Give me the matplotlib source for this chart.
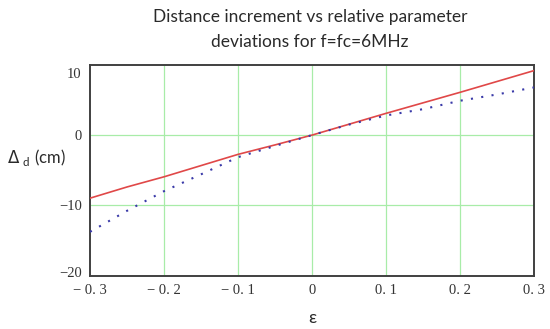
import matplotlib
matplotlib.use("Agg")
import matplotlib.pyplot as plt
from matplotlib.transforms import ScaledTranslation

eps = [-0.3, -0.25, -0.2, -0.15, -0.1, -0.05, 0.0, 0.05, 0.1, 0.15, 0.2, 0.25, 0.3]
red_vals = [-9.0, -7.4, -5.95, -4.35, -2.75, -1.4, 0.0, 1.55, 3.1, 4.6, 6.1, 7.65, 9.2]
blue_vals = [-13.8, -10.8, -8.0, -5.6, -3.15, -1.55, 0.0, 1.5, 2.8, 3.7, 4.9, 5.8, 6.8]
xticks = [-0.3, -0.2, -0.1, 0.0, 0.1, 0.2, 0.3]
xticklabels = ["\u2212 0. 3", "\u2212 0. 2", "\u2212 0. 1", "0", "0. 1", "0. 2", "0. 3"]
yticks = [-20, -10, 0, 10]
yticklabels = ["\u221220", "\u221210", "0", "10"]

fig = plt.figure(figsize=(5.5, 3.29), dpi=100)
ax = fig.add_axes([90/550, 1-276/329, (534-90)/550, (276-65)/329])

ax.plot(eps, red_vals, color="#e04848", lw=1.2, zorder=3)
ax.plot(eps, blue_vals, color="#3a3aa8", lw=1.5, linestyle=(0, (1, 4)), zorder=3)

ax.set_xlim(-0.3, 0.3)
ax.set_ylim(-20.1, 10)
ax.set_xticks(xticks)
ax.set_xticklabels(xticklabels, fontfamily="Liberation Serif", fontsize=10.5)
ax.set_yticks(yticks)
ax.set_yticklabels(yticklabels, fontfamily="Liberation Serif", fontsize=10.5)
ax.tick_params(length=0, pad=6, colors="#333333")

for x in xticks[1:-1]:
    ax.axvline(x, color="#a8eca8", lw=0.9, zorder=1)
for y in [-10, 0]:
    ax.axhline(y, color="#a8eca8", lw=0.9, zorder=1)

for s in ax.spines.values():
    s.set_color("#404040")
    s.set_linewidth(1.4)

# shift end y labels inward
labs = ax.get_yticklabels()
labs[-1].set_transform(labs[-1].get_transform() + ScaledTranslation(0, -8/100, fig.dpi_scale_trans))
labs[0].set_transform(labs[0].get_transform() + ScaledTranslation(0, 3/100, fig.dpi_scale_trans))

fig.text(310/550, 1-17/329, "Distance increment vs relative parameter", ha="center", va="center",
         fontfamily="Lato", fontsize=12.5, color="#2a2a2a")
fig.text(310/550, 1-42/329, "deviations for f=fc=6MHz", ha="center", va="center",
         fontfamily="Lato", fontsize=12.5, color="#2a2a2a")
fig.text(7/550, 1-157/329, r"$\Delta$ $_{\mathregular{d}}$ (cm)", ha="left", va="center",
         fontfamily="Lato", fontsize=12, color="#2a2a2a")
fig.text(312/550, 1-318/329, "\u03b5", ha="center", va="center",
         fontfamily="Lato", fontsize=13, color="#2a2a2a")

fig.savefig("out.png", dpi=100)
